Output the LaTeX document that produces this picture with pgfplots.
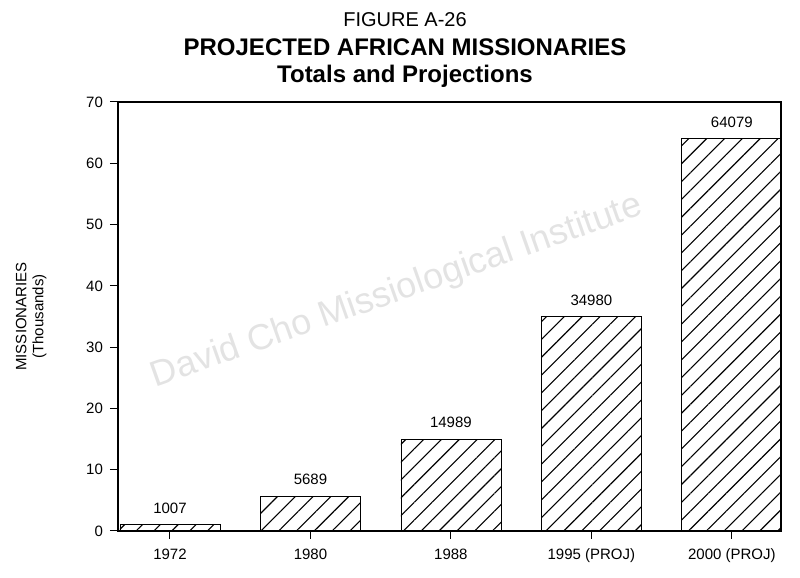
\documentclass[border=0pt]{standalone}
\usepackage{fontspec}
\setmainfont{Liberation Sans}
\usepackage{pgfplots}
\pgfplotsset{compat=1.18}
\usetikzlibrary{patterns.meta}

\begin{document}
\begin{tikzpicture}
\useasboundingbox (-59pt,-23.5pt) rectangle (341pt,265.5pt);
\node[text=black!11, rotate=19.5, font=\fontsize{18}{20}\selectfont] at (139.5pt,119.5pt) {David Cho Missiological Institute};
\node[font=\fontsize{10}{12}\selectfont] at (143.5pt,255.5pt) {FIGURE A-26};
\node[font=\fontsize{12}{14}\selectfont\bfseries] at (143.5pt,242pt) {PROJECTED AFRICAN MISSIONARIES};
\node[font=\fontsize{12}{14}\selectfont\bfseries] at (143.5pt,227.5pt) {Totals and Projections};
\begin{axis}[
  at={(0,0)}, anchor=south west,
  scale only axis, width=331.5pt, height=214.5pt,
  xmin=-0.37, xmax=4.35, ymin=0, ymax=70,
  ytick={0,10,...,70},
  xtick={0,...,4},
  xticklabels={1972,1980,1988,1995 (PROJ),2000 (PROJ)},
  tick align=outside, tick pos=left,
  major tick length=4pt,
  axis line style={line width=0.6pt},
  every tick/.style={black, line width=0.5pt},
  /pgf/number format/assume math mode=true,
  ticklabel style={font=\fontsize{7.5}{9}\selectfont},
  xticklabel style={yshift=-1.5pt},
  ylabel={MISSIONARIES\\(Thousands)},
  ylabel style={at={(axis description cs:-0.131,0.5)}, anchor=center, align=center, font=\fontsize{7.5}{8.5}\selectfont},
  ybar, bar width=50pt,
  nodes near coords, point meta=explicit symbolic,
  nodes near coords style={font=\fontsize{7.5}{9}\selectfont, yshift=2pt},
]
\addplot[draw=black, line width=0.4pt, pattern={Lines[angle=45,distance=6.3pt,line width=0.55pt]}] table[meta=lbl] {
x y lbl
0 1.007 1007
1 5.689 5689
2 14.989 14989
3 34.980 34980
4 64.079 64079
};
\end{axis}
\end{tikzpicture}
\end{document}
